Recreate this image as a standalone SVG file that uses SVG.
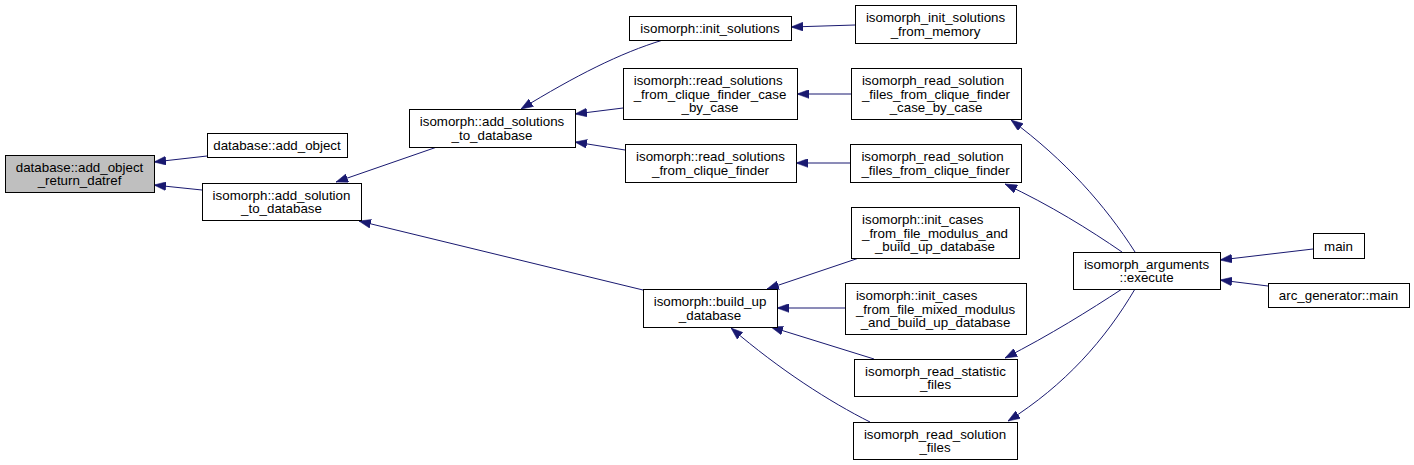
<svg xmlns="http://www.w3.org/2000/svg" width="1414" height="465" viewBox="0 0 1414 465">
<style>
.n rect{fill:#ffffff;stroke:#000000;stroke-width:1}
.n.cur rect{fill:#bfbfbf}
.n text{font-family:"Liberation Sans",Arial,Helvetica,sans-serif;font-size:13.33px;fill:#000000}
.n text.c{text-anchor:middle}
.e path{fill:none;stroke:#191970;stroke-width:1;marker-end:url(#ah)}
</style>
<defs>
<marker id="ah" markerUnits="userSpaceOnUse" markerWidth="12" markerHeight="9" viewBox="0 0 11 8" refX="11" refY="4" orient="auto">
<path d="M0,0 L11,4 L0,8 z" fill="#191970" stroke="#191970" stroke-width="0.5"/>
</marker>
</defs>
<rect width="1414" height="465" fill="#ffffff"/>
<g id="edges" class="e">
<path d="M207,156 L154,162"/>
<path d="M202,190 L154,185"/>
<path d="M437,147 L336,182"/>
<path d="M643,290 L359,221"/>
<path d="M663,40 C620,53 575,76 521,109"/>
<path d="M623,108 L575,114"/>
<path d="M625,150 L575,142"/>
<path d="M855,25 L791,27"/>
<path d="M851,94 L797,94"/>
<path d="M850,163 L796,163"/>
<path d="M859,258 L767,289"/>
<path d="M845,308 L777,308"/>
<path d="M874,359 L771,327"/>
<path d="M870,422 C830,402 780,370 731,328"/>
<path d="M1135,252 C1105,205 1065,160 1011,120"/>
<path d="M1122,252 C1090,230 1050,205 1005,184"/>
<path d="M1122,289 C1090,310 1050,335 1005,358"/>
<path d="M1135,289 C1105,340 1065,385 1008,421"/>
<path d="M1313,249 L1220,260"/>
<path d="M1268,286 L1220,280"/>
</g>
<g id="n1" class="n cur"><rect x="5.5" y="155.5" width="149" height="37"/><text x="15.8" y="171.8">database::add_object</text><text class="c" x="79.5" y="185.2">_return_datref</text></g>
<g id="n2" class="n"><rect x="207.5" y="133.5" width="140" height="24"/><text class="c" x="277" y="150">database::add_object</text></g>
<g id="n3" class="n"><rect x="202.5" y="183.5" width="159" height="37"/><text x="212.6" y="199.8">isomorph::add_solution</text><text class="c" x="281.5" y="213.2">_to_database</text></g>
<g id="n4" class="n"><rect x="409.5" y="109.5" width="166" height="38"/><text x="419.8" y="126.3">isomorph::add_solutions</text><text class="c" x="492" y="139.7">_to_database</text></g>
<g id="n5" class="n"><rect x="629.5" y="16.5" width="162" height="24"/><text class="c" x="710" y="33">isomorph::init_solutions</text></g>
<g id="n6" class="n"><rect x="623.5" y="68.5" width="174" height="51"/><text x="633.7" y="85.2">isomorph::read_solutions</text><text x="633.7" y="98.5">_from_clique_finder_case</text><text class="c" x="710" y="111.8">_by_case</text></g>
<g id="n7" class="n"><rect x="625.5" y="144.5" width="171" height="38"/><text x="636" y="161.3">isomorph::read_solutions</text><text class="c" x="710.5" y="174.7">_from_clique_finder</text></g>
<g id="n8" class="n"><rect x="855.5" y="5.5" width="161" height="38"/><text x="865.9" y="22.3">isomorph_init_solutions</text><text class="c" x="935.5" y="35.7">_from_memory</text></g>
<g id="n9" class="n"><rect x="851.5" y="68.5" width="170" height="51"/><text x="861.9" y="85.2">isomorph_read_solution</text><text x="861.9" y="98.5">_files_from_clique_finder</text><text class="c" x="936" y="111.8">_case_by_case</text></g>
<g id="n10" class="n"><rect x="850.5" y="144.5" width="171" height="38"/><text x="861.4" y="161.3">isomorph_read_solution</text><text class="c" x="935.5" y="174.7">_files_from_clique_finder</text></g>
<g id="n11" class="n"><rect x="643.5" y="289.5" width="134" height="38"/><text x="653.7" y="306.3">isomorph::build_up</text><text class="c" x="710" y="319.7">_database</text></g>
<g id="n12" class="n"><rect x="851.5" y="207.5" width="168" height="51"/><text x="862" y="224.2">isomorph::init_cases</text><text x="862" y="237.5">_from_file_modulus_and</text><text class="c" x="935" y="250.8">_build_up_database</text></g>
<g id="n13" class="n"><rect x="845.5" y="283.5" width="181" height="51"/><text x="855.9" y="300.2">isomorph::init_cases</text><text x="855.9" y="313.5">_from_file_mixed_modulus</text><text class="c" x="935.5" y="326.8">_and_build_up_database</text></g>
<g id="n14" class="n"><rect x="854.5" y="359.5" width="163" height="37"/><text x="865.1" y="375.8">isomorph_read_statistic</text><text class="c" x="935.5" y="389.2">_files</text></g>
<g id="n15" class="n"><rect x="853.5" y="422.5" width="164" height="37"/><text x="863.9" y="438.8">isomorph_read_solution</text><text class="c" x="935" y="452.2">_files</text></g>
<g id="n16" class="n"><rect x="1073.5" y="252.5" width="147" height="37"/><text x="1083.9" y="268.8">isomorph_arguments</text><text class="c" x="1146.5" y="282.2">::execute</text></g>
<g id="n17" class="n"><rect x="1313.5" y="233.5" width="51" height="25"/><text class="c" x="1338.5" y="250.5">main</text></g>
<g id="n18" class="n"><rect x="1268.5" y="283.5" width="141" height="24"/><text class="c" x="1338.5" y="300">arc_generator::main</text></g>
</svg>
